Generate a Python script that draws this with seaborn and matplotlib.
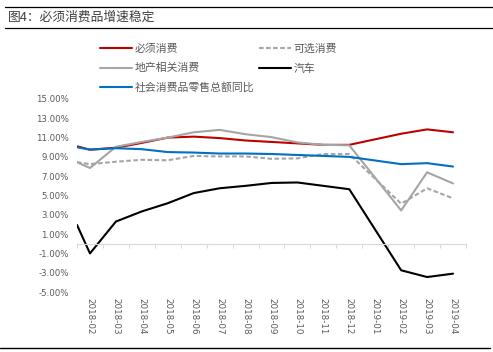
import matplotlib
matplotlib.use("Agg")
import matplotlib.pyplot as plt
import seaborn as sns
import pandas as pd
from matplotlib.lines import Line2D

# ==========================
# datos
# ==========================
meses = ["2018-02", "2018-03", "2018-04", "2018-05", "2018-06", "2018-07", "2018-08",
         "2018-09", "2018-10", "2018-11", "2018-12", "2019-01", "2019-02", "2019-03", "2019-04"]

# periodos con dato (2019-01 sin dato, el primero queda en el borde izquierdo)
periodos = ["2018-01", "2018-02", "2018-03", "2018-04", "2018-05", "2018-06", "2018-07",
            "2018-08", "2018-09", "2018-10", "2018-11", "2018-12", "2019-02", "2019-03", "2019-04"]

bixu = [10.1, 9.75, 9.95, 10.45, 11.0, 11.1, 10.95, 10.7, 10.55, 10.4, 10.25, 10.25, 11.4, 11.85, 11.55]
kexuan = [8.45, 8.25, 8.5, 8.7, 8.65, 9.1, 9.05, 9.05, 8.8, 8.85, 9.3, 9.3, 4.15, 5.75, 4.7]
dichan = [8.45, 7.85, 10.05, 10.55, 11.0, 11.55, 11.8, 11.35, 11.05, 10.5, 10.25, 10.2, 3.45, 7.4, 6.25]
qiche = [1.95, -1.0, 2.3, 3.35, 4.2, 5.25, 5.75, 6.0, 6.3, 6.35, 6.0, 5.65, -2.75, -3.45, -3.1]
shehui = [10.0, 9.75, 9.9, 9.8, 9.5, 9.45, 9.35, 9.35, 9.3, 9.2, 9.1, 9.0, 8.25, 8.35, 8.0]

series = [
    ("必须消费", bixu, "#C00000", "-"),
    ("可选消费", kexuan, "#A5A5A5", (0, (2.2, 1.2))),
    ("地产相关消费", dichan, "#A5A5A5", "-"),
    ("汽车", qiche, "#000000", "-"),
    ("社会消费品零售总额同比", shehui, "#0070C0", "-"),
]

pos = [meses.index(p) if p in meses else -0.5 for p in periodos]

# ==========================
# figura
# ==========================
sns.set_style("white")
plt.rcParams["font.family"] = ["Noto Sans CJK SC", "DejaVu Sans"]

fig = plt.figure(figsize=(4.93, 3.52), dpi=100)
ax = fig.add_axes([77 / 493, 1 - 292 / 352, (466 - 77) / 493, (292 - 99) / 352])

handles = {}
for nombre, valores, color, estilo in series:
    df = pd.DataFrame({"x": pos, "y": valores})
    sns.lineplot(data=df, x="x", y="y", ax=ax, color=color, linewidth=1.5,
                 linestyle=estilo, sort=False, legend=False)
    handles[nombre] = Line2D([0], [0], color=color, linewidth=1.5, linestyle=estilo)

ax.set_xlim(-0.5, len(meses) - 0.5)
ax.set_ylim(-5, 15)
ax.set_xlabel("")
ax.set_ylabel("")

# eje y
yt = list(range(-5, 16, 2))
ax.set_yticks(yt)
ax.set_yticklabels([f"{v:.2f}%" for v in yt], fontsize=6.2, color="#595959",
                   family="DejaVu Sans")
ax.tick_params(axis="y", length=0, pad=6)

# eje x en y=0
for s in ["top", "right", "left"]:
    ax.spines[s].set_visible(False)
ax.spines["bottom"].set_position(("data", 0))
ax.spines["bottom"].set_color("#D9D9D9")
ax.spines["bottom"].set_linewidth(0.8)
ax.set_xticks(range(len(meses)))
ax.set_xticklabels(meses, rotation=270, fontsize=6.3, color="#595959",
                   family="DejaVu Sans")
ax.set_xticks([i - 0.5 for i in range(len(meses) + 1)], minor=True)
ax.tick_params(axis="x", which="major", length=0, pad=39)
ax.tick_params(axis="x", which="minor", length=3, color="#D9D9D9", width=0.8,
               direction="out", bottom=True)

# leyenda
orden = ["必须消费", "地产相关消费", "社会消费品零售总额同比", "可选消费", "汽车"]
fig.legend([handles[n] for n in orden], orden, loc="upper left",
           bbox_to_anchor=(90 / 493, 1 - 34 / 352), ncol=2, frameon=False,
           fontsize=7.8, handlelength=2.95, handletextpad=0.3, columnspacing=0.37,
           labelspacing=0.84, labelcolor="#595959")

# titulo
fig.text(8 / 493, 1 - 17 / 352, "图4：必须消费品增速稳定", fontsize=9.2, color="#404040",
         va="center", ha="left")
fig.add_artist(Line2D([5 / 493, 1], [1 - 7 / 352, 1 - 7 / 352], color="black", lw=0.9))
fig.add_artist(Line2D([5 / 493, 1], [1 - 28 / 352, 1 - 28 / 352], color="black", lw=0.9))
fig.add_artist(Line2D([0, 490 / 493], [1 - 348 / 352, 1 - 348 / 352], color="black", lw=1.0))

fig.savefig("out.png", dpi=100)
